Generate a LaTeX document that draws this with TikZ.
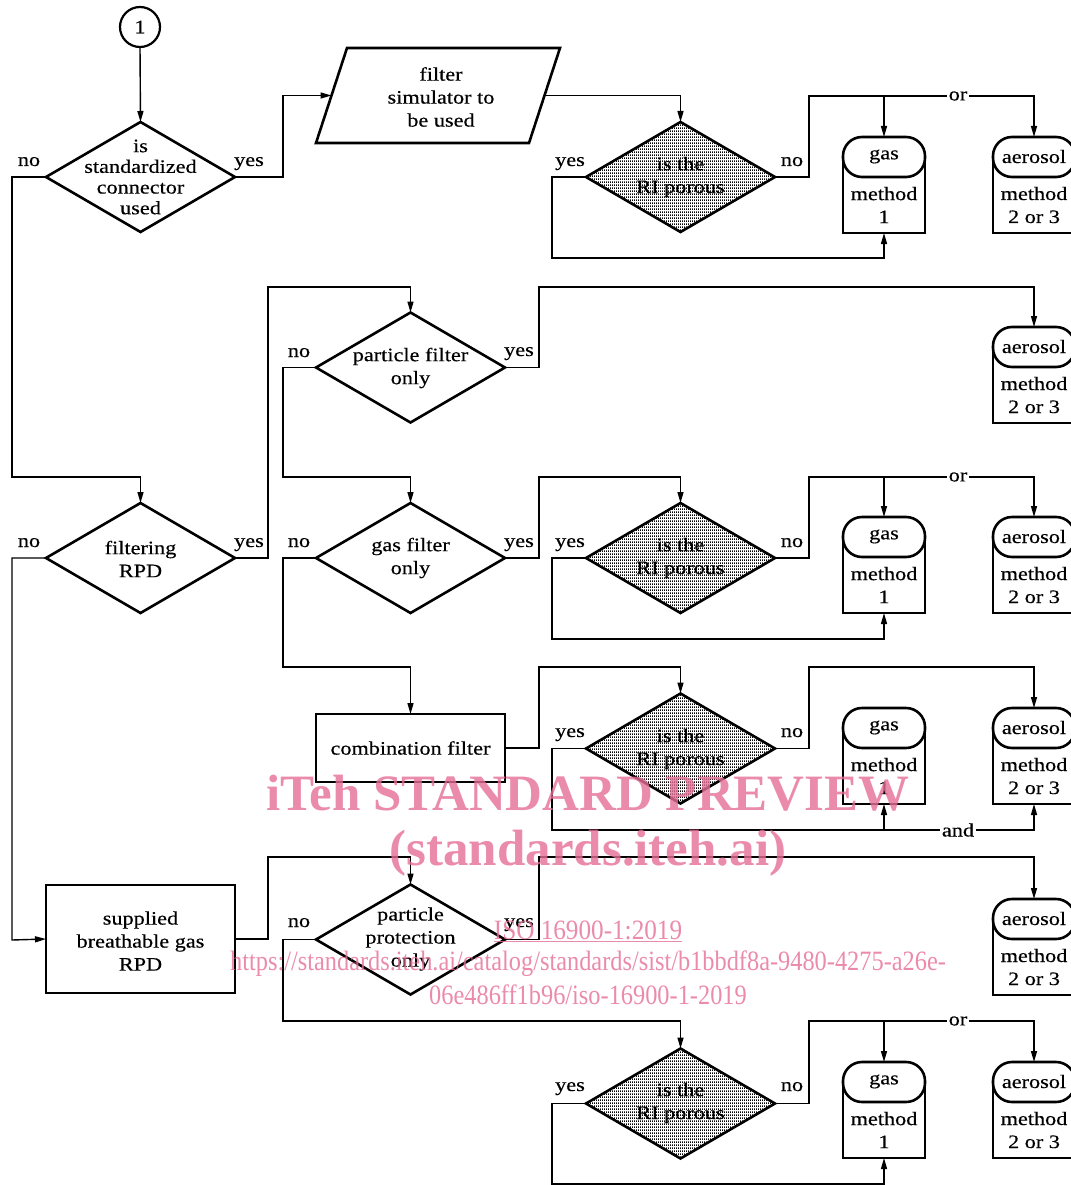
\documentclass[tikz,border=0pt]{standalone}
\usepackage{fontspec}
\setmainfont[FakeStretch=1.17,FakeBold=0.4]{Liberation Serif}
\newfontfamily\wmfont{Liberation Serif}
\usetikzlibrary{arrows.meta,shapes.geometric,patterns,calc}
\pgfdeclarepatternformonly{finedots}{\pgfpointorigin}{\pgfqpoint{2pt}{3pt}}{\pgfqpoint{2pt}{3pt}}{\pgfpathrectangle{\pgfpointorigin}{\pgfqpoint{1.45pt}{2.1pt}}\pgfusepath{fill}}
\definecolor{wm}{RGB}{230,110,150}
\newcommand\methodbox[5]{%
  \node[inner sep=0pt, outer sep=0pt, minimum width=82pt, minimum height=96pt, anchor=north] (#1) at (#2,#3) {};
  \draw[line width=2.6pt, rounded corners=19pt] (#1.north west) rectangle ($(#1.north east)+(0,40)$);
  \draw[line width=2.6pt] ($(#1.north west)+(0,20)$) -- (#1.south west) -- (#1.south east) -- ($(#1.north east)+(0,20)$);
  \node[txt] (#1a) at ($(#1.north)+(0,19.5)$) {#4};
  \node[txt] (#1b) at ($(#1.north)+(0,68)$) {#5};
}
\begin{document}
\begin{tikzpicture}[x=1pt,y=-1pt,
  every node/.style={font=\fontsize{19}{23}\selectfont},
  box/.style={draw, line width=2.6pt, outer sep=0pt, inner sep=0pt},
  dia/.style={diamond, draw, line width=2.6pt, minimum width=189pt, minimum height=110pt, inner sep=0pt, outer sep=0pt},
  ri/.style={dia, pattern=finedots, pattern color=black},
  conn/.style={line width=1.4pt, -{Triangle[length=11pt,width=6pt]}},
  txt/.style={align=center, inner sep=0pt},
  lbl/.style={inner sep=0pt, anchor=base},
  joinlbl/.style={fill=white, inner sep=2pt},
  wmtext/.style={text=wm, opacity=0.8, inner sep=0pt, align=center}
]
\useasboundingbox (0,0) rectangle (1070,1185);

% ---------- left column ----------
\node[draw, circle, line width=2.2pt, minimum size=40pt, inner sep=0pt, outer sep=0pt] (c1) at (140,27) {1};
\node[dia] (d1) at (140.5,177) {};
\node[txt, font=\fontsize{19}{20.7}\selectfont] (d1t) at (140.5,177) {is\\standardized\\connector\\used};
\node[lbl] (d1n) at (29,166) {no};
\node[lbl] (d1y) at (249,166) {yes};

\node[dia] (d2) at (140.5,558) {};
\node[txt] (d2t) at (140.5,559) {filtering\\RPD};
\node[lbl] (d2n) at (29,547) {no};
\node[lbl] (d2y) at (249,547) {yes};

\node[box, minimum width=189pt, minimum height=108pt] (sup) at (140.5,939) {};
\node[txt] (supt) at (140.5,941) {supplied\\breathable gas\\RPD};

% ---------- second column ----------
\node[inner sep=0pt, outer sep=0pt, minimum width=213pt, minimum height=95pt] (par) at (438,95.5) {};
\draw[line width=2.6pt, line join=miter] ($(par.north west)+(15.5,0)$) -- ($(par.north east)+(15.5,0)$)
   -- ($(par.south east)+(-15.5,0)$) -- ($(par.south west)+(-15.5,0)$) -- cycle;
\node[txt] (part) at (441,97) {filter\\simulator to\\be used};

\node[dia] (pf) at (410.5,367.5) {};
\node[txt] (pft) at (410.5,368) {particle filter\\only};
\node[lbl] (pfn) at (299,357) {no};
\node[lbl] (pfy) at (519,356) {yes};

\node[dia] (gf) at (410.5,558) {};
\node[txt] (gft) at (410.5,558) {gas filter\\only};
\node[lbl] (gfn) at (299,547) {no};
\node[lbl] (gfy) at (519,547) {yes};

\node[box, minimum width=189pt, minimum height=68pt] (cf) at (410.5,748) {combination filter};

\node[dia] (pp) at (410.5,939.5) {};
\node[txt] (ppt) at (410.5,939) {particle\\protection\\only};
\node[lbl] (ppn) at (299,927) {no};
\node[lbl] (ppy) at (519,927) {yes};

% ---------- RI diamonds ----------
\node[ri] (ri1) at (680.5,177) {};
\node[txt] (ri1t) at (680.5,177) {is the\\RI porous};
\node[lbl] (ri1y) at (570,166) {yes};
\node[lbl] (ri1n) at (792,166) {no};

\node[ri] (ri2) at (680.5,558) {};
\node[txt] (ri2t) at (680.5,558) {is the\\RI porous};
\node[lbl] (ri2y) at (570,547) {yes};
\node[lbl] (ri2n) at (792,547) {no};

\node[ri] (ri3) at (680.5,748.5) {};
\node[txt] (ri3t) at (680.5,749) {is the\\RI porous};
\node[lbl] (ri3y) at (570,737) {yes};
\node[lbl] (ri3n) at (792,737) {no};

\node[ri] (ri4) at (680.5,1103.5) {};
\node[txt] (ri4t) at (680.5,1103) {is the\\RI porous};
\node[lbl] (ri4y) at (570,1091) {yes};
\node[lbl] (ri4n) at (792,1091) {no};

% ---------- method boxes ----------
\methodbox{g1}{884}{137}{gas}{method\\1}
\methodbox{a1}{1034}{137}{aerosol}{method\\2 or 3}
\methodbox{a2}{1034}{327}{aerosol}{method\\2 or 3}
\methodbox{g2}{884}{517}{gas}{method\\1}
\methodbox{a3}{1034}{517}{aerosol}{method\\2 or 3}
\methodbox{g3}{884}{708}{gas}{method\\1}
\methodbox{a4}{1034}{708}{aerosol}{method\\2 or 3}
\methodbox{a5}{1034}{899}{aerosol}{method\\2 or 3}
\methodbox{g4}{884}{1062}{gas}{method\\1}
\methodbox{a6}{1034}{1062}{aerosol}{method\\2 or 3}

% ---------- connectors ----------
\draw[conn] (c1.south) -- (d1.north);
\draw[conn] (d1.west) -| (12,477) -| (d2.north);
\draw[conn] (d1.east) -| (283,95.5) -- (par.west);
\draw[conn] (par.east) -| (ri1.north);
\draw[conn] (ri1.west) -| (552,258) -| (g1.south);
\draw[conn] (ri1.east) -| (809,96) -| (a1.north);
\draw[conn] (884,96) -- (g1.north);
\node[joinlbl] (or1) at (958,96) {or};

\draw[conn] (d2.east) -| (268,287) -| (pf.north);
\draw[conn] (pf.east) -| (539,287) -| (a2.north);
\draw[conn] (pf.west) -| (283,477) -| (gf.north);
\draw[conn] (d2.west) -| (12,940) -- (sup.west);

\draw[conn] (gf.east) -| (539,477) -| (ri2.north);
\draw[conn] (ri2.west) -| (552,639) -| (g2.south);
\draw[conn] (ri2.east) -| (809,477) -| (a3.north);
\draw[conn] (884,477) -- (g2.north);
\node[joinlbl] (or2) at (958,477) {or};

\draw[conn] (gf.west) -| (283,667) -| (cf.north);
\draw[conn] (cf.east) -| (539,667) -| (ri3.north);
\draw[conn] (ri3.west) -| (552,830) -| (a4.south);
\draw[conn] (884,830) -- (g3.south);
\draw[conn] (ri3.east) -| (809,667) -| (a4.north);
\node[joinlbl] (and1) at (958,830) {and};

\draw[conn] (sup.east) -| (268,857) -| (pp.north);
\draw[conn] (pp.east) -| (539,857) -| (a5.north);
\draw[conn] (pp.west) -| (283,1021) -| (ri4.north);
\draw[conn] (ri4.west) -| (552,1184) -| (g4.south);
\draw[conn] (ri4.east) -| (809,1021) -| (a6.north);
\draw[conn] (884,1021) -- (g4.north);
\node[joinlbl] (or3) at (958,1021) {or};

% ---------- watermark ----------
\node[wmtext, font=\wmfont\bfseries\fontsize{51}{51}\selectfont] (wm1) at (588,793) {iTeh STANDARD PREVIEW};
\node[wmtext, font=\wmfont\bfseries\fontsize{51}{51}\selectfont] (wm2) at (588,853) {(standards.iteh.ai)};
\node[wmtext, font=\wmfont\fontsize{28}{28}\selectfont] (wm3) at (588,931) {\scalebox{0.9}[1]{\underline{ISO 16900-1:2019}}};
\node[wmtext, font=\wmfont\fontsize{28}{28}\selectfont] (wm4) at (588,964) {\scalebox{0.87}[1]{https://standards.iteh.ai/catalog/standards/sist/b1bbdf8a-9480-4275-a26e-}};
\node[wmtext, font=\wmfont\fontsize{28}{28}\selectfont] (wm5) at (588,995) {\scalebox{0.87}[1]{06e486ff1b96/iso-16900-1-2019}};
\end{tikzpicture}
\end{document}
